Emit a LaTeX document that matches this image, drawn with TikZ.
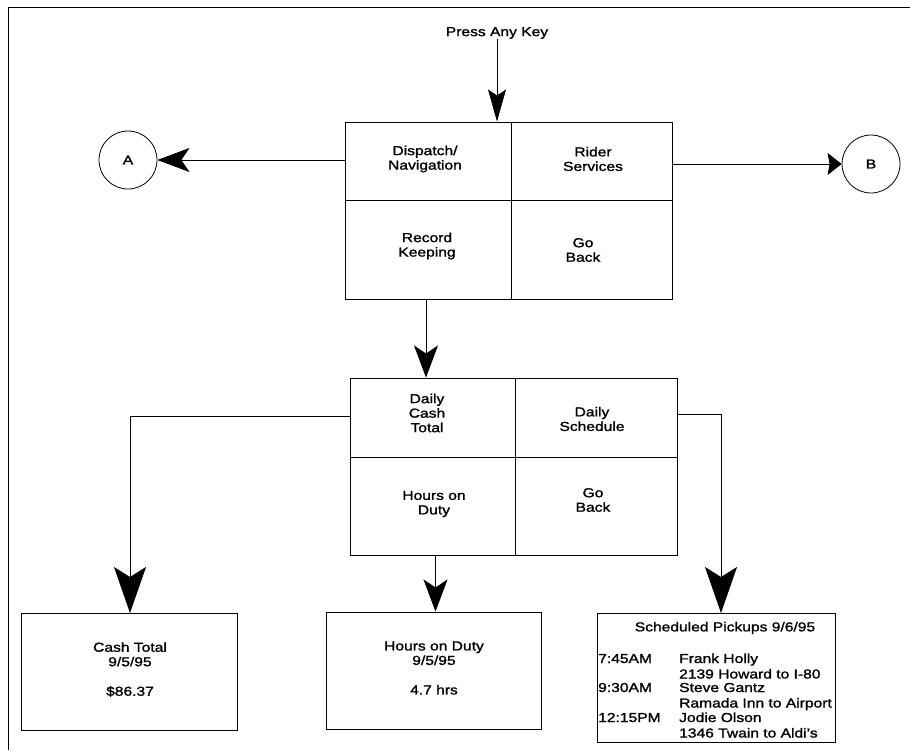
\documentclass[tikz,border=0pt]{standalone}
\usepackage{fontspec}
\setmainfont{Liberation Sans}[FakeStretch=1.2, FakeBold=1.4]
\usetikzlibrary{arrows.meta,calc}

\begin{document}
\begin{tikzpicture}[x=1pt,y=-1pt,
  txt/.style={font=\fontsize{13}{14.5}\selectfont, align=center, inner sep=0pt},
  rowtxt/.style={font=\fontsize{13}{14.5}\selectfont, inner sep=0pt, anchor=base west},
  box/.style={draw, line width=1pt, rectangle, inner sep=0pt},
  conn/.style={line width=0.8pt},
  tipbig/.style={-{Stealth[length=32pt,width=24pt,inset=8pt]}},
  tiplong/.style={-{Stealth[length=46pt,width=32pt,inset=10pt]}},
  tipnarrow/.style={-{Stealth[length=32pt,width=18pt,inset=6pt]}},
  tipsmall/.style={-{Stealth[length=14pt,width=22pt,inset=2pt]}},
  ring/.style={draw, circle, line width=0.8pt, minimum size=58pt, inner sep=0pt, font=\fontsize{13}{14.5}\selectfont}
]
\useasboundingbox (0,0) rectangle (910,750);

% page frame (left and top edges)
\draw[line width=1pt] (8,750) -- (8,7) -- (910,7);

% entry prompt
\node[txt] (press) at (497,33) {Press Any Key};

% main menu
\node[box, minimum width=327pt, minimum height=177pt] (menu1) at (508.5,210.5) {};
\draw[line width=1pt] (511.5,122) -- (511.5,299);
\draw[line width=1pt] (345,200.5) -- (672,200.5);
\node[txt] (dispatch) at (425,159) {Dispatch/\\Navigation};
\node[txt] (rider) at (593,159) {Rider\\Services};
\node[txt] (record) at (427,246) {Record\\Keeping};
\node[txt] (goback1) at (583,250) {Go\\Back};

% off-page connectors
\node[ring] (A) at (128,160) {A};
\node[ring] (B) at (871,164) {B};

% record keeping menu
\node[box, minimum width=327pt, minimum height=177pt] (menu2) at (513.5,466.5) {};
\draw[line width=1pt] (515,378) -- (515,555);
\draw[line width=1pt] (350,457) -- (677,457);
\node[txt] (cash) at (427,413) {Daily\\Cash\\Total};
\node[txt] (sched) at (592,419) {Daily\\Schedule};
\node[txt] (hours) at (434,504) {Hours on\\Duty};
\node[txt] (goback2) at (593,500) {Go\\Back};

% result screens
\node[box, minimum width=216pt, minimum height=117pt] (cashbox) at (129,671.5) {};
\node[txt] (cashtxt) at (130,669.5) {Cash Total\\9/5/95\\[15pt]\$86.37};

\node[box, minimum width=215pt, minimum height=117pt] (hoursbox) at (433.5,670.5) {};
\node[txt] (hourstxt) at (434,668) {Hours on Duty\\9/5/95\\[15pt]4.7 hrs};

\node[box, minimum width=238pt, minimum height=129pt] (schedbox) at (716,677.5) {};
\node[txt] (schedtitle) at (725,628) {Scheduled Pickups 9/6/95};
\node[rowtxt] (t1) at (598,663) {7:45AM};
\node[rowtxt] (n1) at (679,663) {Frank Holly};
\node[rowtxt] (a1) at (679,678.5) {2139 Howard to I-80};
\node[rowtxt] (t2) at (598,692) {9:30AM};
\node[rowtxt] (n2) at (679,692) {Steve Gantz};
\node[rowtxt] (a2) at (679,707.5) {Ramada Inn to Airport};
\node[rowtxt] (t3) at (598,722) {12:15PM};
\node[rowtxt] (n3) at (679,722) {Jodie Olson};
\node[rowtxt] (a3) at (679,737.5) {1346 Twain to Aldi's};

% connector end points
\coordinate (m1out) at (426,299);
\coordinate (cashout) at (350,416);
\coordinate (cashin) at (130,613);
\coordinate (hoursout) at (435.5,555);
\coordinate (schedout) at (677,414);
\coordinate (schedin) at (721,613);

% connectors
\draw[conn, tipnarrow] (press.south) -- (press.south |- menu1.north);
\draw[conn, tipbig] (A -| menu1.west) -- (A.east);
\draw[conn, tipsmall] (B -| menu1.east) -- (B.west);
\draw[conn, tipbig] (m1out) -- (m1out |- menu2.north);
\draw[conn, tiplong] (cashout) -| (cashin);
\draw[conn, tipbig] (hoursout) -- (hoursout |- hoursbox.north);
\draw[conn, tiplong] (schedout) -| (schedin);
\end{tikzpicture}
\end{document}
